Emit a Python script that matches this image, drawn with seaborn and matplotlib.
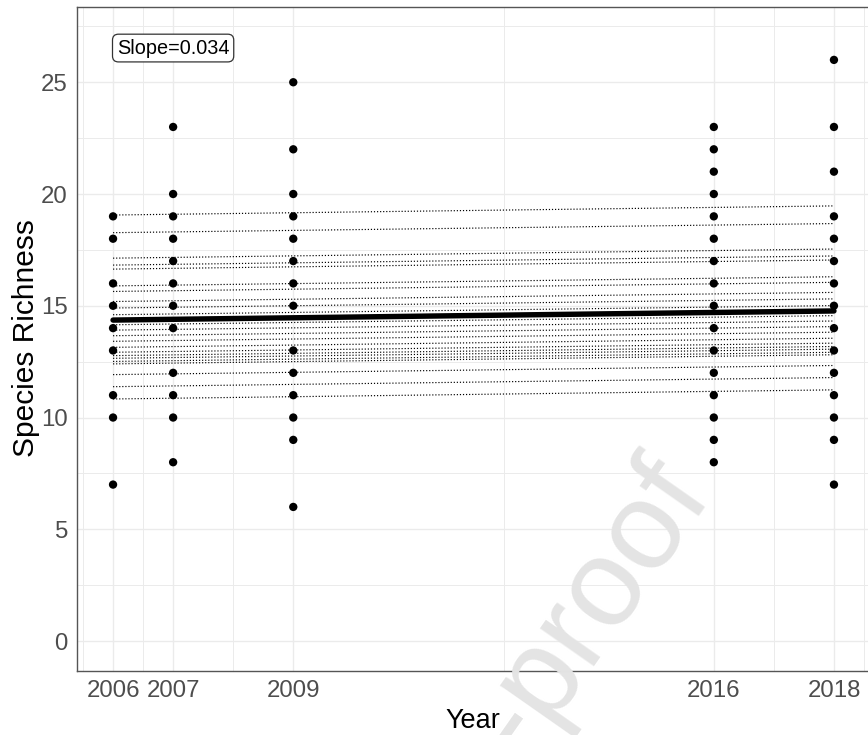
import numpy as np
import pandas as pd
import matplotlib
matplotlib.use("Agg")
import matplotlib.pyplot as plt
import seaborn as sns

# ---- data ----
year_ticks = [2006, 2007, 2009, 2016, 2018]
rich_2006 = [7, 10, 11, 13, 14, 15, 16, 18, 19]
rich_2007 = [8, 10, 11, 12, 14, 15, 16, 17, 18, 19, 20, 23]
rich_2009 = [6, 9, 10, 11, 12, 13, 15, 16, 17, 18, 19, 20, 22, 25]
rich_2016 = [8, 9, 10, 11, 12, 13, 14, 15, 16, 17, 18, 19, 20, 21, 22, 23]
rich_2018 = [7, 9, 10, 11, 12, 13, 14, 15, 16, 17, 18, 19, 21, 23, 26]

slope = 0.034
fixed_intercept_2006 = 14.36
site_intercepts_2006 = [19.06, 18.27, 17.13, 16.82, 16.64, 15.89, 15.64, 15.19,
                        14.90, 14.60, 14.15, 13.91, 13.66, 13.41, 13.14, 12.92,
                        12.77, 12.65, 12.51, 12.40, 11.92, 11.38, 10.83]
line_years = [2006, 2018]
slope_label = "Slope=0.034"

# ---- tables ----
pts = pd.DataFrame({
    "Year": [2006] * len(rich_2006) + [2007] * len(rich_2007) + [2009] * len(rich_2009)
            + [2016] * len(rich_2016) + [2018] * len(rich_2018),
    "Richness": rich_2006 + rich_2007 + rich_2009 + rich_2016 + rich_2018,
})
site_rows = []
for i, b in enumerate(site_intercepts_2006):
    for yr in line_years:
        site_rows.append({"site": i, "Year": yr, "Richness": b + slope * (yr - 2006)})
sites = pd.DataFrame(site_rows)
fixed = pd.DataFrame({"Year": line_years,
                      "Richness": [fixed_intercept_2006 + slope * (yr - 2006) for yr in line_years]})

# ---- figure ----
sns.set_theme(style="white")
plt.rcParams["font.family"] = ["Liberation Sans", "DejaVu Sans"]

W, H = 868, 735
fig = plt.figure(figsize=(W / 100, H / 100), dpi=100)
left_px, right_px, top_px, bottom_px = 77, 870, 6.7, 671
ax = fig.add_axes([left_px / W, 1 - bottom_px / H, (right_px - left_px) / W, (bottom_px - top_px) / H])

# grid
ax.set_xlim(2005.40, 2018.60)
ax.set_ylim(-1.34, 28.38)
ax.set_xticks(year_ticks)
ax.set_xticks([2005.5, 2006.5, 2008, 2012.5, 2017, 2018.5], minor=True)
ax.set_yticks([0, 5, 10, 15, 20, 25])
ax.set_yticks([2.5, 7.5, 12.5, 17.5, 22.5, 27.5], minor=True)
ax.grid(True, which="major", color="#EBEBEB", lw=1.0)
ax.grid(True, which="minor", color="#EBEBEB", lw=0.7)
ax.set_axisbelow(True)
ax.tick_params(which="minor", length=0)

sns.lineplot(data=sites, x="Year", y="Richness", units="site", estimator=None,
             color="black", lw=0.85, linestyle=(0, (1, 1.6)), ax=ax, zorder=2)
sns.lineplot(data=fixed, x="Year", y="Richness", color="black", lw=3.9, ax=ax, zorder=3)
sns.scatterplot(data=pts, x="Year", y="Richness", color="black", s=36,
                edgecolor="none", ax=ax, zorder=4)

ax.text(2007.0, 26.53, slope_label, ha="center", va="center", fontsize=14.3, color="black",
        bbox=dict(boxstyle="round,pad=0.22,rounding_size=0.3", fc="white", ec="#333333", lw=0.9),
        zorder=5)

for sp in ax.spines.values():
    sp.set_color("#555555")
    sp.set_linewidth(1.0)

ax.tick_params(which="major", axis="both", length=4.5, width=0.9, color="#555555",
               labelsize=17.3, labelcolor="#4D4D4D", pad=2)
ax.set_xlabel("Year", fontsize=19.5, color="black")
ax.set_ylabel("Species Richness", fontsize=21.5, color="black")
ax.xaxis.set_label_coords((473 - left_px) / (right_px - left_px), -(734 - bottom_px) / (bottom_px - top_px))
ax.yaxis.set_label_coords(-(77 - 40) / (right_px - left_px), 0.5 + ((bottom_px + top_px) / 2 - 338) / (bottom_px - top_px))
ax.xaxis.label.set_va("bottom")

# watermark
fig.text(713 / W, 1 - 496 / H, "Journal Pre-proof", fontsize=90, color="#E4E4E4",
         rotation=55, rotation_mode="anchor", ha="right", va="baseline", zorder=10)

fig.savefig("out.png", dpi=100)
